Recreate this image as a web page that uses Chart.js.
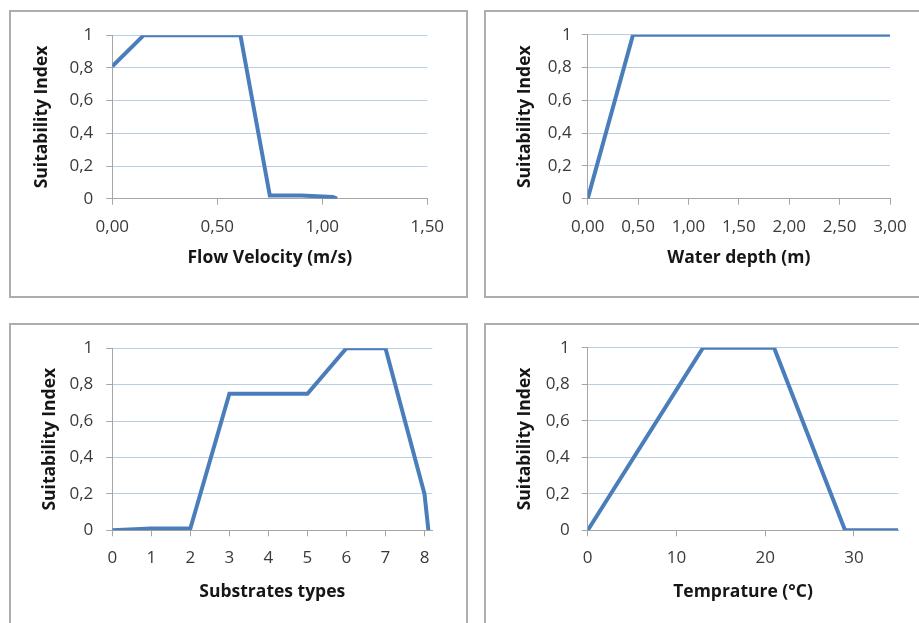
<!DOCTYPE html>
<html>
<head>
<meta charset="utf-8">
<title>Suitability curves</title>
<script src="https://cdn.jsdelivr.net/npm/chart.js@4.4.1/dist/chart.umd.min.js"></script>
<style>
  html, body { margin: 0; padding: 0; background: #fff; width: 919px; height: 623px; overflow: hidden; }
  .panel { position: absolute; border: 2px solid #adadad; background: #fff; }
  .panel canvas { display: block; }
</style>
</head>
<body>
<div class="panel" style="left:9px;top:10px;width:455px;height:284px"><canvas id="velocityChart" width="455" height="284"></canvas></div>
<div class="panel" style="left:484px;top:10px;width:456px;height:284px"><canvas id="depthChart" width="456" height="284"></canvas></div>
<div class="panel" style="left:9px;top:323px;width:455px;height:316px"><canvas id="substrateChart" width="455" height="316"></canvas></div>
<div class="panel" style="left:484px;top:323px;width:456px;height:316px"><canvas id="tempChart" width="456" height="316"></canvas></div>
<script>
// habitat suitability curves
const velocity = [0, 0.15, 0.61, 0.75, 0.90, 1.05, 1.07];
const velocitySI = [0.81, 1, 1, 0.02, 0.02, 0.01, 0];

const depth = [0, 0.45, 3.00];
const depthSI = [0, 1, 1];

const substrate = [0, 1, 2, 3, 5, 6, 7, 8, 8.1];
const substrateSI = [0, 0.01, 0.01, 0.75, 0.75, 1, 1, 0.2, 0];

const temperature = [0, 13, 21, 29, 35];
const temperatureSI = [0, 1, 1, 0, 0];

// axis ticks
const siTicks = [0, 0.2, 0.4, 0.6, 0.8, 1];
const velocityTicks = [0, 0.5, 1.0, 1.5];
const depthTicks = [0, 0.5, 1.0, 1.5, 2.0, 2.5, 3.0];
const substrateTicks = [0, 1, 2, 3, 4, 5, 6, 7, 8];
const tempTicks = [0, 10, 20, 30];

Chart.defaults.font.family = "'Open Sans', sans-serif";
Chart.defaults.color = '#3a3a3a';

const LINE_BLUE = '#4a7ebb';
const GRID_BLUE = '#b9cde5';
const AXIS_GREY = '#a6a6a6';

const comma = (v, d) => v.toFixed(d).replace('.', ',');

function drawPanel(id, xs, ys, xTicks, xMax, xDigits, xTitle, box) {
  const points = xs.map((x, i) => ({ x, y: ys[i] }));
  new Chart(document.getElementById(id), {
    type: 'line',
    data: {
      datasets: [{
        data: points,
        borderColor: LINE_BLUE,
        borderWidth: 4,
        pointRadius: 0,
        tension: 0,
        fill: false
      }]
    },
    options: {
      responsive: false,
      animation: false,
      layout: { padding: { left: 0, top: 22.7, right: box.right, bottom: 0 } },
      plugins: { legend: { display: false }, tooltip: { enabled: false } },
      scales: {
        x: {
          type: 'linear',
          min: 0,
          max: xMax,
          afterBuildTicks: s => { s.ticks = xTicks.map(value => ({ value })); },
          afterFit: s => { s.height = box.xh; },
          grid: { drawOnChartArea: false, tickLength: 6, tickColor: AXIS_GREY },
          border: { color: AXIS_GREY, width: 1 },
          ticks: {
            autoSkip: false,
            maxRotation: 0,
            padding: 12,
            font: { size: 17 },
            callback: v => xDigits ? comma(v, xDigits) : String(v)
          },
          title: {
            display: true,
            text: xTitle,
            color: '#161616',
            font: { size: 17.5, weight: 'bold' },
            padding: { top: 0, bottom: box.xt }
          }
        },
        y: {
          min: 0,
          max: 1,
          afterBuildTicks: s => { s.ticks = siTicks.map(value => ({ value })); },
          afterFit: s => { s.width = box.yw; },
          grid: {
            color: c => c.tick && c.tick.value === 0 ? 'rgba(0,0,0,0)' : GRID_BLUE,
            tickLength: 6,
            tickColor: AXIS_GREY
          },
          border: { color: AXIS_GREY, width: 1 },
          ticks: {
            padding: box.yp,
            font: { size: 17 },
            callback: v => (v === 0 || v === 1) ? String(v) : comma(v, 1)
          },
          title: {
            display: true,
            text: 'Suitability Index',
            color: '#161616',
            font: { size: 17.5, weight: 'bold' },
            padding: { top: box.yt, bottom: 0 }
          }
        }
      }
    }
  });
}

drawPanel('velocityChart', velocity, velocitySI, velocityTicks, 1.5, 2, 'Flow Velocity (m/s)',
  { right: 38.7, xh: 97.3, xt: 27.2, yw: 101.3, yp: 13, yt: 20.2 });
drawPanel('depthChart', depth, depthSI, depthTicks, 3, 2, 'Water depth (m)',
  { right: 52, xh: 97.3, xt: 27.2, yw: 101.7, yp: 10, yt: 28.5 });
drawPanel('substrateChart', substrate, substrateSI, substrateTicks, 8.2, 0, 'Substrates types',
  { right: 33.7, xh: 110.7, xt: 38.8, yw: 101.3, yp: 13, yt: 28.5 });
drawPanel('tempChart', temperature, temperatureSI, tempTicks, 35, 0, 'Temprature (°C)',
  { right: 43.7, xh: 110.7, xt: 38.8, yw: 101.7, yp: 12, yt: 28.5 });
</script>
</body>
</html>
